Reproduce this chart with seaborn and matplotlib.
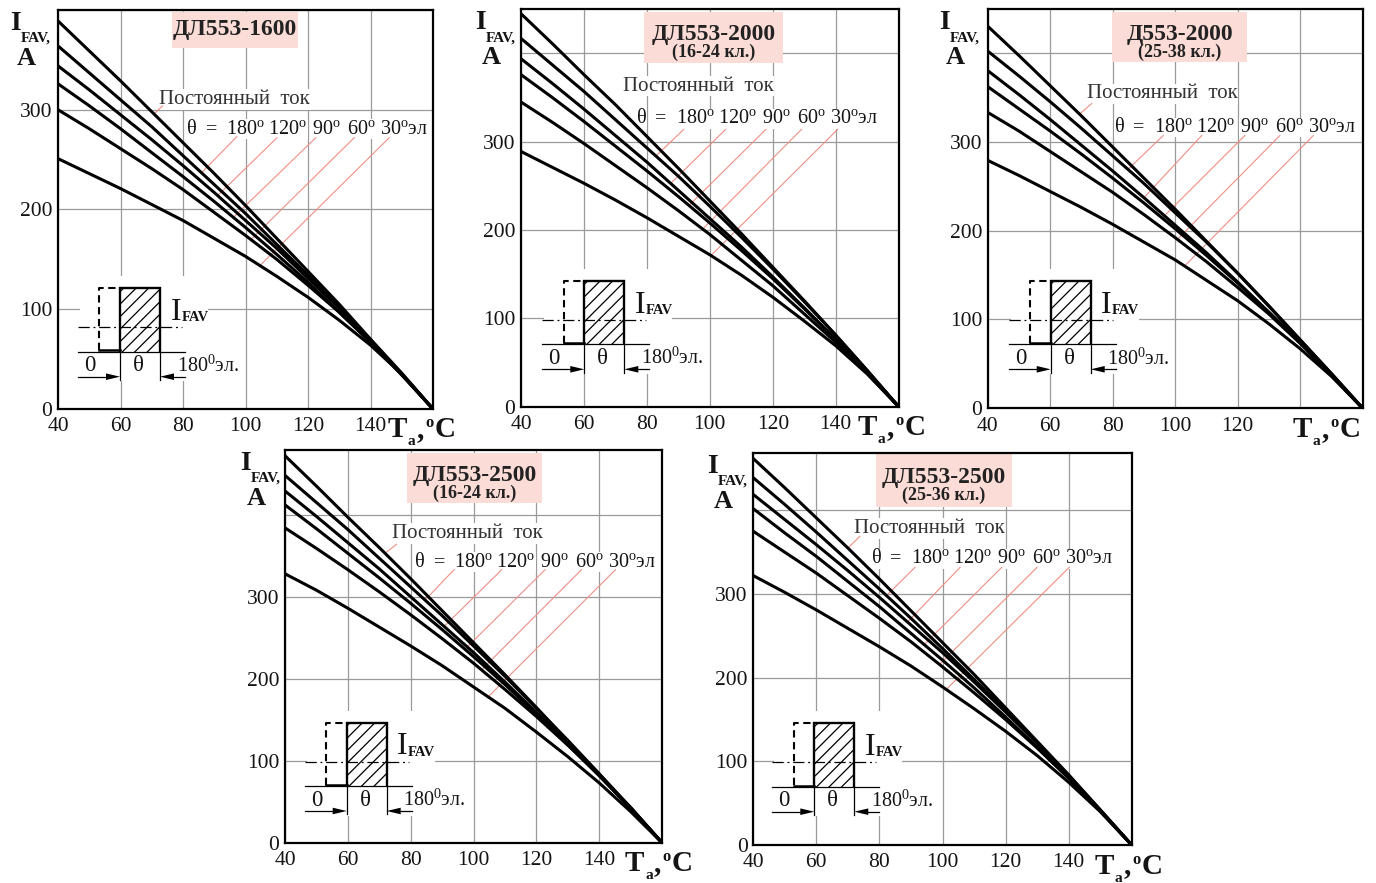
import matplotlib
matplotlib.use("Agg")
import matplotlib.pyplot as plt
import matplotlib.transforms as mtransforms
from matplotlib.patches import Rectangle, Polygon
import numpy as np
import pandas as pd
import seaborn as sns

# ---------------- data ----------------
temps = [40, 50, 60, 70, 80, 90, 100, 110, 120, 130, 140, 150, 160]
curve_names = ["DC", "180", "120", "90", "60", "30"]

# ДЛ553-1600
p1_dc  = [389, 359, 329, 298, 267, 236, 204, 171, 138, 105, 70, 36, 0]
p1_180 = [364, 337, 310, 283, 254, 225, 196, 165, 134, 102, 69, 35, 0]
p1_120 = [344, 320, 295, 270, 244, 217, 189, 161, 131, 101, 69, 35, 0]
p1_90  = [326, 304, 281, 257, 233, 208, 182, 155, 127, 97, 67, 34, 0]
p1_60  = [300, 281, 261, 241, 220, 197, 174, 150, 124, 97, 67, 35, 0]
p1_30  = [251, 236, 221, 205, 189, 171, 153, 133, 112, 89, 64, 35, 0]
# ДЛ553-2000 (16-24 кл.)
p2_dc  = [445, 411, 376, 342, 306, 270, 233, 196, 158, 120, 81, 41, 0]
p2_180 = [417, 387, 357, 325, 293, 261, 227, 192, 156, 119, 81, 41, 0]
p2_120 = [394, 366, 337, 307, 277, 245, 213, 181, 147, 112, 76, 39, 0]
p2_90  = [376, 350, 323, 295, 267, 238, 208, 177, 145, 111, 76, 39, 0]
p2_60  = [345, 322, 298, 273, 248, 222, 195, 166, 137, 105, 73, 38, 0]
p2_30  = [289, 271, 253, 234, 214, 193, 172, 149, 124, 97, 69, 37, 0]
# Д553-2000 (25-38 кл.)
p3_dc  = [430, 397, 363, 329, 294, 259, 224, 188, 152, 115, 77, 39, 0]
p3_180 = [402, 374, 345, 315, 284, 253, 220, 187, 152, 115, 77, 39, 0]
p3_120 = [380, 353, 325, 296, 267, 237, 206, 175, 142, 108, 74, 37, 0]
p3_90  = [362, 337, 312, 286, 259, 231, 202, 172, 141, 108, 74, 38, 0]
p3_60  = [333, 312, 289, 266, 243, 218, 192, 165, 136, 106, 73, 38, 0]
p3_30  = [279, 262, 244, 226, 207, 187, 167, 144, 121, 95, 67, 36, 0]
# ДЛ553-2500 (16-24 кл.)
p4_dc  = [472, 435, 397, 360, 322, 283, 244, 205, 165, 124, 84, 42, 0]
p4_180 = [448, 415, 382, 347, 312, 277, 240, 203, 164, 125, 84, 43, 0]
p4_120 = [429, 398, 366, 334, 300, 266, 232, 196, 159, 121, 82, 42, 0]
p4_90  = [412, 383, 353, 323, 292, 260, 227, 193, 157, 120, 82, 42, 0]
p4_60  = [384, 359, 333, 306, 278, 249, 219, 187, 154, 119, 82, 43, 0]
p4_30  = [328, 308, 286, 263, 240, 216, 190, 164, 135, 105, 73, 38, 0]
# ДЛ553-2500 (25-36 кл.)
p5_dc  = [462, 427, 391, 355, 318, 280, 242, 204, 164, 124, 84, 42, 0]
p5_180 = [439, 407, 374, 340, 306, 271, 235, 198, 161, 122, 83, 42, 0]
p5_120 = [419, 389, 359, 328, 296, 263, 230, 195, 159, 122, 83, 42, 0]
p5_90  = [402, 373, 345, 315, 285, 253, 221, 188, 153, 117, 80, 41, 0]
p5_60  = [375, 350, 325, 298, 271, 243, 213, 182, 150, 116, 80, 41, 0]
p5_30  = [322, 302, 281, 259, 237, 214, 189, 163, 136, 107, 75, 40, 0]

panel_curves = [
    [p1_dc, p1_180, p1_120, p1_90, p1_60, p1_30],
    [p2_dc, p2_180, p2_120, p2_90, p2_60, p2_30],
    [p3_dc, p3_180, p3_120, p3_90, p3_60, p3_30],
    [p4_dc, p4_180, p4_120, p4_90, p4_60, p4_30],
    [p5_dc, p5_180, p5_120, p5_90, p5_60, p5_30],
]

titles = ["ДЛ553-1600", "ДЛ553-2000", "Д553-2000", "ДЛ553-2500", "ДЛ553-2500"]
subtitles = ["", "(16-24 кл.)", "(25-38 кл.)", "(16-24 кл.)", "(25-36 кл.)"]
y_tops = [399, 450, 449, 479, 469]
x_ticks = [40, 60, 80, 100, 120, 140, 160]
x_ticklabels = ["40", "60", "80", "100", "120", "140", ""]
x_ticklabels_p3 = ["40", "60", "80", "100", "120", "", ""]
y_ticks = [0, 100, 200, 300, 400]
y_ticklabels = ["0", "100", "200", "300", ""]

dc_label = "Постоянный  ток"
theta_parts = ["θ", "=", "180$^{\\mathrm{o}}$", "120$^{\\mathrm{o}}$",
               "90$^{\\mathrm{o}}$", "60$^{\\mathrm{o}}$", "30$^{\\mathrm{o}}$эл"]

# leader lines (top point -> point on curve), data coords
leaders = [
    [((73.5, 304), (70.8, 296)), ((97.2, 273), (86.0, 237)), ((110.1, 272), (91.1, 214)),
     ((122.5, 272), (96.1, 192)), ((134.8, 272), (101.8, 170)), ((146.0, 272), (104.7, 144))],
    [((91.7, 314), (82.9, 284)), ((105.0, 314), (87.6, 253)),
     ((117.8, 314), (93.4, 228)), ((129.1, 314), (97.7, 201)), ((140.6, 314), (100.3, 171))],
    [((73.3, 343), (69.4, 331)), ((96.2, 307), (84.9, 269)), ((108.5, 307), (90.0, 237)),
     ((122.3, 307), (95.8, 214)), ((133.5, 307), (100.7, 190)), ((144.2, 307), (103.0, 160))],
    [((75.5, 364), (71.8, 353)), ((93.8, 333), (84.6, 296)), ((109.0, 333), (90.7, 264)),
     ((122.8, 333), (97.3, 236)), ((134.4, 333), (102.6, 211)), ((145.2, 333), (104.7, 178))],
    [((73.8, 369), (70.0, 355)), ((91.3, 332), (82.2, 298)), ((105.6, 332), (89.0, 267)),
     ((118.8, 332), (94.3, 240)), ((130.0, 332), (99.1, 216)), ((140.2, 332), (101.2, 186))],
]
dc_text_pos = [(72.4, 306), (72.3, 358), (71.7, 348.7), (74.2, 372), (71.9, 373)]
theta_text_pos = [(81.3, 276), (76.7, 321), (80.7, 311), (81.4, 336.6), (77.5, 337)]

# ---------------- layout (pixels) ----------------
W, H = 1376, 883
panel_px = [(58, 10, 433, 409), (521, 9.3, 898.7, 406.7), (987.7, 9.3, 1362.7, 408.3),
            (285, 450, 662, 842.7), (753.3, 452.7, 1131.7, 845)]
theta_dx = [0, 18.5, 39.3, 81.3, 125, 160, 193.3]
xlab_dx = [-45, -41, -70, -37, -37]
ylab_dx = [-48, -46, -48.7, -45, -46.3]
box_px = [(114, 240, 2, 38), (123, 262, 2.7, 53.7), (124.3, 259.3, 2.7, 52.7),
          (122, 257, 3, 53), (122.7, 258.7, 1.3, 54.3)]
inset_origin = [(62, 57.3), (63.3, 62.4), (63, 64), (61.7, 56.7), (61, 58.3)]

SERIF = "Liberation Serif"
plt.rcParams.update({
    "font.family": [SERIF, "DejaVu Serif"],
    "mathtext.fontset": "custom",
    "mathtext.rm": SERIF,
    "mathtext.it": SERIF + ":italic",
    "mathtext.bf": SERIF + ":bold",
})

PINK = "#fcdcd6"
RED = "#ef8f85"
GRID = "#9a9a9a"
TXT = "#141414"

fig = plt.figure(figsize=(W / 100, H / 100), dpi=100)


def px_tr(ax, ox, oy, wpx, hpx):
    return mtransforms.Affine2D().translate(ox, oy).scale(1.0 / wpx, 1.0 / hpx) + ax.transAxes


def draw_inset(ax, tr):
    ax.add_patch(Rectangle((-40, -29.5), 128, 105, transform=tr, fc="white", ec="none", zorder=1))
    rect = Rectangle((0, 0), 40, 63.4, transform=tr, fc="none", ec="none", zorder=1)
    ax.add_patch(rect)
    for k in np.arange(-40, 66, 12.5):
        ln, = ax.plot([-10, 90], [-10 + k, 90 + k], transform=tr, color="black", lw=0.9, zorder=2)
        ln.set_clip_path(rect)
    ax.plot([0, 0, 40, 40], [0, 63.4, 63.4, 0], transform=tr, color="black", lw=1.7,
            zorder=3, solid_joinstyle="miter", solid_capstyle="butt")
    ax.plot([-20.7, -20.7, 0], [1.5, 63.4, 63.4], transform=tr, color="black", lw=1.5,
            ls=(0, (3.5, 2.2)), zorder=3)
    ax.plot([-20.7, 0], [1.2, 1.2], transform=tr, color="black", lw=1.8, zorder=3)
    ax.plot([-42, 65], [0, 0], transform=tr, color="black", lw=0.9, zorder=3)
    ax.plot([-42, 62], [24.4, 24.4], transform=tr, color="black", lw=0.9,
            ls=(0, (9, 3, 1.5, 3)), zorder=3)
    ax.plot([0, 0], [0, -28.3], transform=tr, color="black", lw=0.9, zorder=3)
    ax.plot([40, 40], [0, -28.3], transform=tr, color="black", lw=0.9, zorder=3)
    ax.plot([-42, -8], [-25, -25], transform=tr, color="black", lw=0.9, zorder=3)
    ax.plot([48, 65], [-25, -25], transform=tr, color="black", lw=0.9, zorder=3)
    ax.add_patch(Polygon([(0, -25), (-14, -21.7), (-14, -28.3)], closed=True, transform=tr,
                         fc="black", ec="none", zorder=3))
    ax.add_patch(Polygon([(40, -25), (54, -21.7), (54, -28.3)], closed=True, transform=tr,
                         fc="black", ec="none", zorder=3))
    ax.text(-30, -19.5, "0", transform=tr, fontsize=16.5, ha="center", va="baseline", color=TXT, zorder=4)
    ax.text(18.5, -19.5, "θ", transform=tr, fontsize=16.5, ha="center", va="baseline", color=TXT, zorder=4)
    ax.text(56.7, -20, "180$^{\\mathrm{0}}$эл.", transform=tr, fontsize=14.5, ha="left",
            va="baseline", color=TXT, zorder=4)
    ax.text(50.5, 31.5, "I", transform=tr, fontsize=23, ha="left", va="baseline", color=TXT, zorder=4)
    ax.text(61.5, 30.5, "FAV", transform=tr, fontsize=10.5, fontweight="bold", ha="left",
            va="baseline", color=TXT, zorder=4)


for i, (l, t, r, b) in enumerate(panel_px):
    wpx, hpx = r - l, b - t
    ax = fig.add_axes([l / W, (H - b) / H, wpx / W, hpx / H])

    df = pd.DataFrame({
        "T": temps * len(curve_names),
        "I": [v for c in panel_curves[i] for v in c],
        "curve": np.repeat(curve_names, len(temps)),
    })
    sns.lineplot(data=df, x="T", y="I", units="curve", estimator=None, sort=False,
                 color="black", lw=2.2, legend=False, ax=ax, zorder=3)
    ax.set_xlabel("")
    ax.set_ylabel("")
    ax.set_xlim(40, 160)
    ax.set_ylim(0, y_tops[i])
    ax.set_xticks(x_ticks)
    ax.set_xticklabels(x_ticklabels_p3 if i == 2 else x_ticklabels)
    ax.set_yticks(y_ticks)
    ax.set_yticklabels(y_ticklabels)
    ax.tick_params(length=0, labelsize=15.5, colors=TXT)
    ax.tick_params(axis="x", pad=6)
    ax.tick_params(axis="y", pad=4)
    ax.grid(True, color=GRID, lw=0.9)
    ax.set_axisbelow(True)
    for s in ax.spines.values():
        s.set_linewidth(1.6)
        s.set_color("black")
        s.set_zorder(5)

    # leaders
    for (t0, i0), (t1, i1) in leaders[i]:
        ax.plot([t0, t1], [i0, i1], color=RED, lw=0.8, zorder=2)

    # annotation texts
    ax.text(*dc_text_pos[i], dc_label, fontsize=15, color="#333333", ha="left", va="baseline",
            zorder=1.5, bbox=dict(fc="white", ec="none", pad=0.6))
    for part, dx in zip(theta_parts, theta_dx):
        tr = mtransforms.offset_copy(ax.transData, fig=fig, x=dx, y=0, units="dots")
        ax.text(theta_text_pos[i][0], theta_text_pos[i][1], part, transform=tr, fontsize=14.5,
                color=TXT, ha="left", va="baseline", zorder=1.5,
                bbox=dict(fc="white", ec="none", pad=0.3))

    # title box
    x0, x1, y0, y1 = box_px[i]
    trt = px_tr(ax, 0, hpx, wpx, hpx)
    ax.add_patch(Rectangle((x0, -y1), x1 - x0, y1 - y0, transform=trt, fc=PINK, ec="none", zorder=4))
    xc = (x0 + x1) / 2
    if subtitles[i]:
        ax.text(xc, -30.5, titles[i], transform=trt, fontsize=17, fontweight="bold",
                ha="center", va="baseline", color="#222222", zorder=5)
        ax.text(xc, -47.5, subtitles[i], transform=trt, fontsize=13, fontweight="bold",
                ha="center", va="baseline", color="#222222", zorder=5)
    else:
        ax.text(xc, -25, titles[i], transform=trt, fontsize=17, fontweight="bold",
                ha="center", va="baseline", color="#222222", zorder=5)

    # inset pulse diagram
    ox, oy = inset_origin[i]
    draw_inset(ax, px_tr(ax, ox, oy, wpx, hpx))

    # y label: I_FAV, A
    dx = ylab_dx[i]
    ax.text(dx, -20, "I", transform=trt, fontsize=20, fontweight="bold", ha="left", va="baseline",
            color=TXT, clip_on=False)
    ax.text(dx + 10.5, -32, "FAV,", transform=trt, fontsize=11, fontweight="bold", ha="left",
            va="baseline", color=TXT, clip_on=False)
    ax.text(dx + 6.7, -55, "A", transform=trt, fontsize=19, fontweight="bold", ha="left",
            va="baseline", color=TXT, clip_on=False)

    # x label: T_a, ºC
    trx = px_tr(ax, wpx, 0, wpx, hpx)
    xd = xlab_dx[i]
    ax.text(xd, -28.5, "T", transform=trx, fontsize=21, fontweight="bold", ha="left",
            va="baseline", color=TXT, clip_on=False)
    ax.text(xd + 20, -36.5, "a", transform=trx, fontsize=11, fontweight="bold", ha="left",
            va="baseline", color=TXT, clip_on=False)
    ax.text(xd + 29, -28.5, ",", transform=trx, fontsize=21, fontweight="bold", ha="left",
            va="baseline", color=TXT, clip_on=False)
    ax.text(xd + 37.5, -18.5, "o", transform=trx, fontsize=12, fontweight="bold", ha="left",
            va="baseline", color=TXT, clip_on=False)
    ax.text(xd + 46.7, -28.5, "C", transform=trx, fontsize=21, fontweight="bold", ha="left",
            va="baseline", color=TXT, clip_on=False)

fig.savefig("out.png", dpi=100, facecolor="white")
